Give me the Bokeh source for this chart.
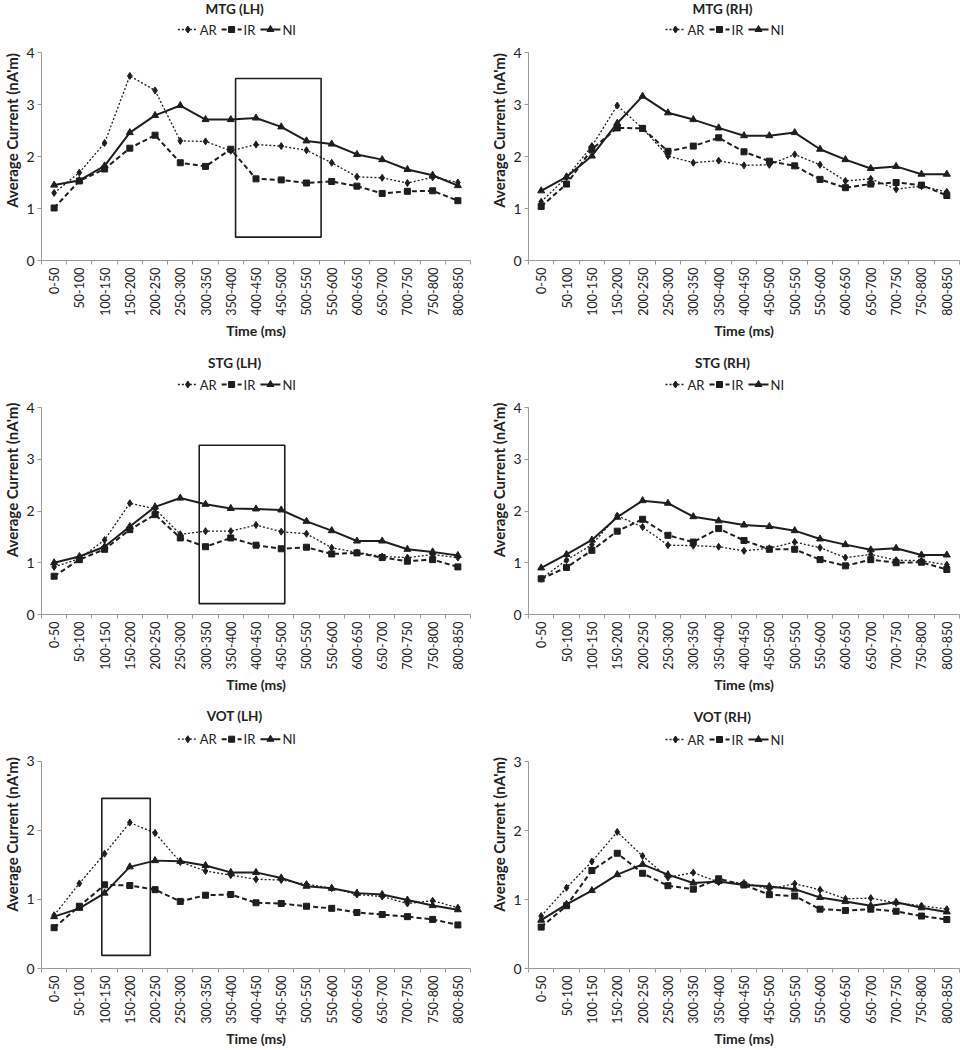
import math
from bokeh.plotting import figure
from bokeh.models import FixedTicker, Range1d
from bokeh.core.properties import value
from bokeh.layouts import column, row
from bokeh.embed import file_html
from bokeh.resources import INLINE

# ---------------- data ----------------
time_bins = ["0-50", "50-100", "100-150", "150-200", "200-250", "250-300", "300-350",
             "350-400", "400-450", "450-500", "500-550", "550-600", "600-650", "650-700",
             "700-750", "750-800", "800-850"]
series_names = ["AR", "IR", "NI"]

mtg_lh_ar = [1.30, 1.69, 2.26, 3.55, 3.27, 2.30, 2.29, 2.11, 2.23, 2.20, 2.12, 1.88, 1.61, 1.59, 1.49, 1.60, 1.50]
mtg_lh_ir = [1.01, 1.53, 1.76, 2.16, 2.41, 1.88, 1.81, 2.14, 1.57, 1.55, 1.49, 1.52, 1.43, 1.29, 1.33, 1.34, 1.15]
mtg_lh_ni = [1.45, 1.54, 1.82, 2.46, 2.79, 2.98, 2.71, 2.71, 2.74, 2.57, 2.30, 2.24, 2.04, 1.94, 1.75, 1.64, 1.44]

mtg_rh_ar = [1.13, 1.60, 2.20, 2.98, 2.54, 2.01, 1.88, 1.92, 1.83, 1.84, 2.04, 1.84, 1.53, 1.57, 1.37, 1.43, 1.32]
mtg_rh_ir = [1.04, 1.47, 2.14, 2.55, 2.54, 2.10, 2.20, 2.36, 2.09, 1.91, 1.82, 1.56, 1.40, 1.47, 1.50, 1.45, 1.25]
mtg_rh_ni = [1.34, 1.61, 2.01, 2.64, 3.16, 2.84, 2.71, 2.55, 2.40, 2.40, 2.46, 2.14, 1.94, 1.77, 1.81, 1.66, 1.66]

stg_lh_ar = [0.92, 1.08, 1.44, 2.15, 2.04, 1.55, 1.61, 1.61, 1.73, 1.60, 1.56, 1.29, 1.20, 1.12, 1.10, 1.16, 1.10]
stg_lh_ir = [0.74, 1.06, 1.26, 1.64, 1.93, 1.48, 1.31, 1.48, 1.34, 1.27, 1.30, 1.17, 1.19, 1.10, 1.03, 1.06, 0.92]
stg_lh_ni = [1.00, 1.12, 1.31, 1.70, 2.08, 2.25, 2.13, 2.05, 2.04, 2.02, 1.80, 1.62, 1.42, 1.42, 1.26, 1.21, 1.14]

stg_rh_ar = [0.69, 1.05, 1.35, 1.91, 1.69, 1.34, 1.33, 1.31, 1.23, 1.28, 1.40, 1.29, 1.10, 1.16, 1.05, 1.04, 0.96]
stg_rh_ir = [0.69, 0.91, 1.24, 1.61, 1.84, 1.53, 1.40, 1.66, 1.43, 1.26, 1.26, 1.06, 0.94, 1.06, 1.00, 1.01, 0.87]
stg_rh_ni = [0.90, 1.16, 1.44, 1.88, 2.20, 2.15, 1.89, 1.81, 1.73, 1.70, 1.62, 1.46, 1.35, 1.25, 1.28, 1.15, 1.15]

vot_lh_ar = [0.77, 1.23, 1.66, 2.11, 1.96, 1.54, 1.41, 1.35, 1.29, 1.28, 1.22, 1.16, 1.07, 1.04, 0.94, 0.98, 0.88]
vot_lh_ir = [0.59, 0.90, 1.21, 1.20, 1.14, 0.97, 1.06, 1.07, 0.95, 0.94, 0.90, 0.87, 0.81, 0.78, 0.75, 0.71, 0.63]
vot_lh_ni = [0.75, 0.87, 1.09, 1.47, 1.56, 1.55, 1.49, 1.39, 1.39, 1.31, 1.19, 1.16, 1.09, 1.07, 0.99, 0.91, 0.85]

vot_rh_ar = [0.76, 1.17, 1.55, 1.98, 1.63, 1.32, 1.39, 1.25, 1.24, 1.15, 1.23, 1.14, 1.01, 1.02, 0.95, 0.91, 0.86]
vot_rh_ir = [0.60, 0.91, 1.42, 1.67, 1.38, 1.20, 1.15, 1.30, 1.21, 1.07, 1.05, 0.86, 0.84, 0.86, 0.83, 0.76, 0.71]
vot_rh_ni = [0.70, 0.93, 1.13, 1.36, 1.51, 1.36, 1.24, 1.26, 1.21, 1.19, 1.15, 1.03, 0.97, 0.91, 0.96, 0.88, 0.82]

# highlight boxes: [left, right] in time-bin index units, [bottom, top] in nA'm
mtg_lh_box_x = [7.19, 10.58]
mtg_lh_box_y = [0.45, 3.50]
stg_lh_box_x = [5.75, 9.14]
stg_lh_box_y = [0.21, 3.27]
vot_lh_box_x = [1.89, 3.81]
vot_lh_box_y = [0.19, 2.46]

# ---------------- styling ----------------
FONT = "Lato"
INK = "#1e1e1e"
TXT = "#222222"
AXIS_GRAY = "#9a9a9a"
FIG_W = 480

STYLES = [  # (dash, width, marker, marker size)
    ("2 2", 1.3, "diamond", 7),
    ("5 3", 2.0, "square", 6),
    (None, 2.0, "triangle", 7),
]


def make_panel(title, series, ymax, height, bottom, head_px, title_px, legend_px, left, right,
               box_x=None, box_y=None):
    n = len(time_bins)
    xs = list(range(n))
    frame_w = FIG_W - left - right
    frame_h = height - bottom
    ppc = frame_w / n                       # pixels per category
    ppu = (frame_h - head_px) / ymax        # pixels per unit on the y axis
    y_top = ymax + head_px / ppu

    def xd(px):  # pixel offset from frame left -> data x
        return -0.5 + px / ppc

    def yd(px):  # pixel offset from frame top -> data y
        return y_top - px / ppu

    p = figure(width=FIG_W, height=height, title=None,
               x_range=Range1d(-0.5, n - 0.5), y_range=Range1d(0, y_top),
               output_backend="svg", toolbar_location=None,
               min_border_top=0, min_border_left=left, min_border_right=right,
               min_border_bottom=bottom)
    p.xgrid.visible = False
    p.ygrid.visible = False
    p.outline_line_color = None

    for vals, (dash, lw, marker, ms) in zip(series, STYLES):
        if dash:
            p.line(xs, vals, line_color=INK, line_width=lw, line_dash=dash)
        else:
            p.line(xs, vals, line_color=INK, line_width=lw)
        p.scatter(xs, vals, marker=marker, size=ms, color=INK)

    if box_x is not None:
        p.quad(left=[box_x[0]], right=[box_x[1]], bottom=[box_y[0]], top=[box_y[1]],
               fill_alpha=0, line_color=INK, line_width=1.6)

    # title (centred a little left of the plot-area centre, as in the source)
    cx = frame_w / 2 - 21.5
    p.text(x=[xd(cx)], y=[yd(title_px)], text=[title], text_font=value(FONT),
           text_font_size="13.5px", text_font_style="bold", text_color=TXT,
           text_align="center", text_baseline="middle")

    # legend drawn by hand: sample line + marker + label
    lx0 = cx - 57
    sample_start = [0, 44, 83]
    sample_len = 20
    for (dash, lw, marker, ms), s0, name in zip(STYLES, sample_start, series_names):
        xa_, xb_ = lx0 + s0, lx0 + s0 + sample_len
        yy = yd(legend_px)
        if dash:
            p.line([xd(xa_), xd(xb_)], [yy, yy], line_color=INK, line_width=lw, line_dash=dash)
        else:
            p.line([xd(xa_), xd(xb_)], [yy, yy], line_color=INK, line_width=lw)
        p.scatter([xd((xa_ + xb_) / 2)], [yy], marker=marker, size=ms, color=INK)
        p.text(x=[xd(xb_ + 2)], y=[yy], text=[name], text_font=value(FONT),
               text_font_size="13px", text_color=TXT, text_align="left",
               text_baseline="middle")

    # x axis
    xa = p.xaxis[0]
    xa.ticker = FixedTicker(ticks=xs, minor_ticks=[i - 0.5 for i in range(n + 1)])
    xa.major_label_overrides = {i: lab for i, lab in enumerate(time_bins)}
    xa.major_label_orientation = math.pi / 2
    xa.major_tick_line_color = None
    xa.major_tick_in = 0
    xa.major_tick_out = 4
    xa.minor_tick_in = 0
    xa.minor_tick_out = 4
    xa.minor_tick_line_color = AXIS_GRAY
    xa.axis_line_color = AXIS_GRAY
    xa.major_label_text_font = FONT
    xa.major_label_text_font_size = "12.5px"
    xa.major_label_text_color = TXT
    xa.major_label_standoff = 3
    xa.axis_label = "Time (ms)"
    xa.axis_label_text_font = FONT
    xa.axis_label_text_font_size = "14px"
    xa.axis_label_text_font_style = "bold"
    xa.axis_label_text_color = TXT
    xa.axis_label_standoff = 3

    # y axis (line limited to the data range 0..ymax)
    ya = p.yaxis[0]
    ya.bounds = (0, ymax)
    ya.ticker = FixedTicker(ticks=list(range(ymax + 1)), minor_ticks=[])
    ya.major_tick_in = 0
    ya.major_tick_out = 4
    ya.major_tick_line_color = AXIS_GRAY
    ya.axis_line_color = AXIS_GRAY
    ya.major_label_text_font = FONT
    ya.major_label_text_font_size = "14px"
    ya.major_label_text_color = TXT
    ya.major_label_standoff = 3
    ya.axis_label = "Average Current (nA'm)"
    ya.axis_label_text_font = FONT
    ya.axis_label_text_font_size = "15px"
    ya.axis_label_text_font_style = "bold"
    ya.axis_label_text_color = TXT
    ya.axis_label_standoff = 2
    return p


# rows: (height, bottom border, pixels above the top tick, title offset, legend offset)
p1 = make_panel("MTG (LH)", [mtg_lh_ar, mtg_lh_ir, mtg_lh_ni], 4, 345, 85, 52, 8, 29, 39, 10,
                mtg_lh_box_x, mtg_lh_box_y)
p2 = make_panel("MTG (RH)", [mtg_rh_ar, mtg_rh_ir, mtg_rh_ni], 4, 345, 85, 52, 8, 29, 48, 1)
p3 = make_panel("STG (LH)", [stg_lh_ar, stg_lh_ir, stg_lh_ni], 4, 355, 86, 62, 17, 39, 39, 10,
                stg_lh_box_x, stg_lh_box_y)
p4 = make_panel("STG (RH)", [stg_rh_ar, stg_rh_ir, stg_rh_ni], 4, 355, 86, 62, 17, 39, 48, 1)
p5 = make_panel("VOT (LH)", [vot_lh_ar, vot_lh_ir, vot_lh_ni], 3, 350, 80, 61, 16, 39, 39, 10,
                vot_lh_box_x, vot_lh_box_y)
p6 = make_panel("VOT (RH)", [vot_rh_ar, vot_rh_ir, vot_rh_ni], 3, 350, 82, 61, 16, 39, 48, 1)

layout = column(row(p1, p2), row(p3, p4), row(p5, p6))

with open("out.html", "w") as f:
    f.write(file_html(layout, INLINE))
